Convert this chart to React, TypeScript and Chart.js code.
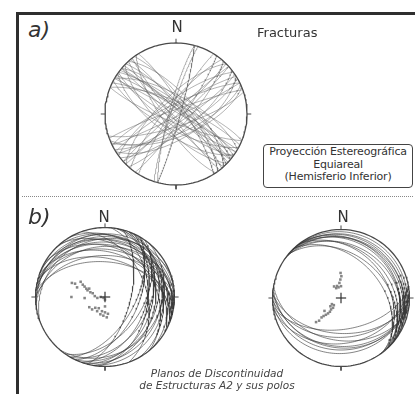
import React, { useEffect, useRef } from "react";
import { Chart, registerables } from "chart.js";

Chart.register(...registerables);

// ---------- DATA ----------
// a) Fracturas: planes as strike (right-hand rule) / dip, degrees
const aStrikes = [292, 296, 300, 303, 306, 308, 310, 313, 315, 318, 320, 324, 328, 300, 310,
  112, 118, 122, 126, 130, 134, 138, 142, 146, 125,
  35, 42, 48, 52, 56, 60, 64, 68, 72, 45, 58, 66,
  212, 220, 228, 234, 238, 244, 250, 198, 225, 15, 195];
const aDips = [76, 80, 70, 84, 78, 82, 74, 86, 79, 68, 83, 75, 80, 88, 85,
  80, 72, 84, 77, 87, 70, 81, 85, 74, 66,
  82, 76, 85, 70, 80, 74, 87, 64, 76, 88, 62, 68,
  84, 78, 87, 74, 82, 79, 85, 84, 70, 85, 82];

// b) left stereonet: planes (dip direction / dip) and poles (trend / plunge)
const bLeftDipDirs = [350, 0, 10, 20, 5, 15, 25, 355, 10, 20, 0, 15, 30, 340, 5,
  100, 110, 115, 105, 120, 110, 125, 115, 100, 130, 95, 120, 105,
  60, 50, 70, 45];
const bLeftDips = [10, 14, 18, 12, 22, 26, 20, 28, 32, 36, 40, 44, 30, 18, 48,
  16, 20, 26, 32, 36, 40, 45, 50, 28, 22, 38, 55, 60,
  20, 30, 40, 15];
const bLeftPoleTrends = [293, 294, 289, 302, 299, 297, 294, 291, 298, 288, 287, 275, 263, 270, 240, 180, 270, 267, 237, 226, 222, 209, 192, 180, 195, 185, 175, 170, 209, 180];
const bLeftPolePlunges = [47, 51, 55, 56, 60, 63, 66, 68, 69, 72, 75, 78, 81, 85, 88, 87, 50, 66, 68, 69, 73, 75, 73, 72, 69, 68, 66, 70, 71, 79];

// b) right stereonet: planes (dip direction / dip) and poles (trend / plunge)
const bRightDipDirs = [45, 40, 48, 42, 50, 38, 45, 52, 40, 47, 35, 55,
  175, 180, 185, 170, 190, 178, 183, 172, 188];
const bRightDips = [5, 9, 12, 16, 20, 24, 28, 32, 36, 41, 14, 18,
  20, 25, 30, 34, 38, 42, 47, 52, 28];
const bRightPoleTrends = [359, 1, 358, 354, 342, 329, 347, 0, 334, 236, 225, 232, 219, 221, 219, 220, 222, 232, 224, 225, 226, 224];
const bRightPolePlunges = [60, 64, 68, 72, 75, 74, 77, 76, 77, 77, 78, 74, 75, 72, 69, 66, 63, 65, 60, 57, 48, 52];

const cardinalAzimuths = [0, 90, 180, 270];

// ---------- PROJECTION (equal-area, lower hemisphere) ----------
const DEG = Math.PI / 180;
type P = { x: number; y: number };

function projectVec(vx: number, vy: number, vz: number): P {
  const h = Math.sqrt(vx * vx + vy * vy);
  const r = Math.sqrt(Math.max(0, 1 - vz));
  if (h < 1e-9) return { x: 0, y: 0 };
  return { x: (r * vx) / h, y: (r * vy) / h };
}

function projectLine(trend: number, plunge: number): P {
  const c = Math.cos(plunge * DEG);
  return projectVec(c * Math.sin(trend * DEG), c * Math.cos(trend * DEG), Math.sin(plunge * DEG));
}

function greatCircle(dipDir: number, dip: number): P[] {
  const s = (dipDir - 90) * DEG;
  const dd = dipDir * DEG;
  const d = dip * DEG;
  const A = [Math.sin(s), Math.cos(s), 0];
  const B = [Math.cos(d) * Math.sin(dd), Math.cos(d) * Math.cos(dd), Math.sin(d)];
  const pts: P[] = [];
  for (let t = 0; t <= 180; t += 2) {
    const ct = Math.cos(t * DEG), st = Math.sin(t * DEG);
    pts.push(projectVec(ct * A[0] + st * B[0], ct * A[1] + st * B[1], ct * A[2] + st * B[2]));
  }
  return pts;
}

function primitive(): P[] {
  const pts: P[] = [];
  for (let a = 0; a <= 360; a += 2) pts.push({ x: Math.sin(a * DEG), y: Math.cos(a * DEG) });
  return pts;
}

type NetProps = {
  left: number; top: number; radius: number; size: number;
  planes: [number, number][]; poles?: [number, number][]; cross?: boolean;
  planeColor: string; planeWidth: number;
};

function Stereonet({ left, top, radius, size, planes, poles, cross, planeColor, planeWidth }: NetProps) {
  const ref = useRef<HTMLCanvasElement | null>(null);
  useEffect(() => {
    if (!ref.current) return;
    const L = size / 2 / radius;
    const datasets: any[] = [];
    planes.forEach(([dd, dip]) => {
      datasets.push({ data: greatCircle(dd, dip), showLine: true, borderColor: planeColor, borderWidth: planeWidth, pointRadius: 0, fill: false });
    });
    datasets.push({ data: primitive(), showLine: true, borderColor: "#4a4a4a", borderWidth: 1.3, pointRadius: 0, fill: false });
    cardinalAzimuths.forEach((az) => {
      const sx = Math.sin(az * DEG), sy = Math.cos(az * DEG);
      datasets.push({ data: [{ x: sx, y: sy }, { x: sx * 1.06, y: sy * 1.06 }], showLine: true, borderColor: "#4a4a4a", borderWidth: 1, pointRadius: 0 });
    });
    if (cross) {
      const c = 0.075;
      datasets.push({ data: [{ x: -c, y: 0 }, { x: c, y: 0 }], showLine: true, borderColor: "#333", borderWidth: 1.2, pointRadius: 0 });
      datasets.push({ data: [{ x: 0, y: -c }, { x: 0, y: c }], showLine: true, borderColor: "#333", borderWidth: 1.2, pointRadius: 0 });
    }
    if (poles) {
      datasets.push({ data: poles.map(([t, p]) => projectLine(t, p)), showLine: false, pointStyle: "rect", pointRadius: 1.8, backgroundColor: "#858585", borderColor: "#858585", borderWidth: 0 });
    }
    const chart = new Chart(ref.current, {
      type: "scatter",
      data: { datasets },
      options: {
        animation: false,
        responsive: false,
        events: [],
        layout: { padding: 0 },
        plugins: { legend: { display: false }, tooltip: { enabled: false } },
        scales: {
          x: { type: "linear", min: -L, max: L, display: false },
          y: { type: "linear", min: -L, max: L, display: false },
        },
      },
    });
    return () => chart.destroy();
  }, []);
  return <canvas ref={ref} width={size} height={size} style={{ position: "absolute", left, top, width: size, height: size }} />;
}

const FONT = "'DejaVu Sans', Verdana, sans-serif";

export default function App() {
  const aPlanes: [number, number][] = aStrikes.map((s, i) => [(s + 90) % 360, aDips[i]]);
  const bLeftPlanes: [number, number][] = bLeftDipDirs.map((d, i) => [d, bLeftDips[i]]);
  const bRightPlanes: [number, number][] = bRightDipDirs.map((d, i) => [d, bRightDips[i]]);
  const bLeftPoles: [number, number][] = bLeftPoleTrends.map((t, i) => [t, bLeftPolePlunges[i]]);
  const bRightPoles: [number, number][] = bRightPoleTrends.map((t, i) => [t, bRightPolePlunges[i]]);

  const txt = (extra: React.CSSProperties): React.CSSProperties => ({ position: "absolute", fontFamily: FONT, color: "#333", whiteSpace: "nowrap", ...extra });

  return (
    <div style={{ position: "absolute", left: 0, top: 0, width: 415, height: 394, background: "#fff", overflow: "hidden" }}>
      <div style={{ position: "absolute", left: 16, top: 12, width: 420, height: 400, borderTop: "3px solid #2e2e2e", borderLeft: "3px solid #2e2e2e" }} />
      <div style={{ position: "absolute", left: 22, top: 196, width: 391, borderTop: "1px dotted #888" }} />

      <Stereonet left={96} top={34} radius={71} size={160} planes={aPlanes} planeColor="rgba(95,95,95,0.55)" planeWidth={0.9} />
      <Stereonet left={23} top={215} radius={73} size={164} planes={bLeftPlanes} poles={bLeftPoles} cross planeColor="rgba(55,55,55,0.68)" planeWidth={0.9} />
      <Stereonet left={260} top={217} radius={72} size={162} planes={bRightPlanes} poles={bRightPoles} cross planeColor="rgba(55,55,55,0.68)" planeWidth={0.9} />

      <div style={txt({ left: 28, top: 19, fontSize: 22, lineHeight: "22px", fontStyle: "italic" })}>a)</div>
      <div style={txt({ left: 157, top: 20, width: 40, textAlign: "center", fontSize: 15, lineHeight: "15px" })}>N</div>
      <div style={txt({ left: 257, top: 26, fontSize: 13, lineHeight: "13px" })}>Fracturas</div>

      <div style={{ position: "absolute", left: 263, top: 144, width: 150, height: 44, boxSizing: "border-box", border: "1.5px solid #444", borderRadius: 4, fontFamily: FONT, color: "#333", fontSize: 11, lineHeight: "12.5px", paddingTop: 1, textAlign: "center", whiteSpace: "nowrap", letterSpacing: "-0.2px" }}>
        <div>Proyección Estereográfica</div>
        <div>Equiareal</div>
        <div>(Hemisferio Inferior)</div>
      </div>

      <div style={txt({ left: 28, top: 206, fontSize: 22, lineHeight: "22px", fontStyle: "italic" })}>b)</div>
      <div style={txt({ left: 84, top: 210, width: 40, textAlign: "center", fontSize: 15, lineHeight: "15px" })}>N</div>
      <div style={txt({ left: 323, top: 210, width: 40, textAlign: "center", fontSize: 15, lineHeight: "15px" })}>N</div>

      <div style={txt({ left: 117, top: 367, width: 200, textAlign: "center", fontSize: 10.5, lineHeight: "12px", fontStyle: "italic", color: "#444" })}>
        <div>Planos de Discontinuidad</div>
        <div>de Estructuras A2 y sus polos</div>
      </div>
    </div>
  );
}
